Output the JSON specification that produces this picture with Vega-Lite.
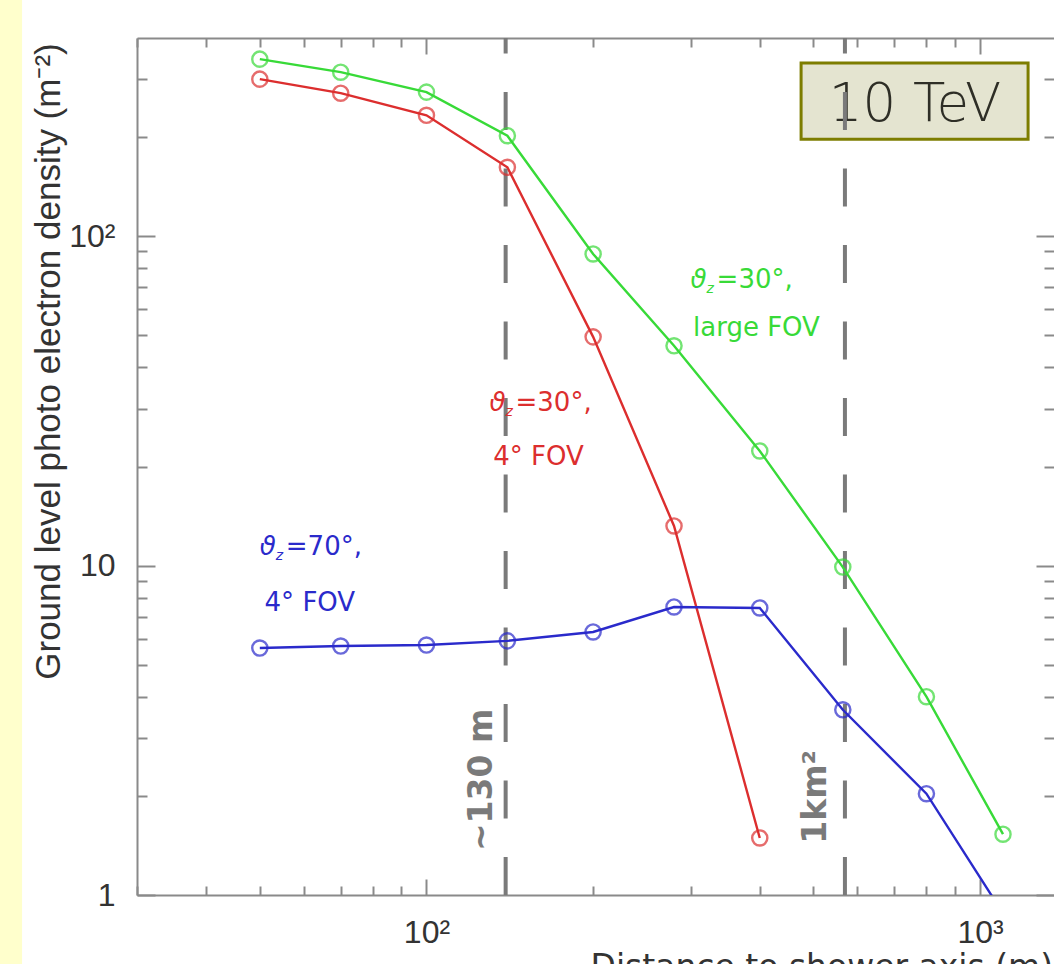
{
  "$schema": "https://vega.github.io/schema/vega-lite/v6.json",
  "usermeta": {"embedOptions": {"actions": false}},
  "width": 917,
  "height": 857,
  "autosize": {"type": "none"},
  "padding": {"left": 137, "top": 38, "right": 0, "bottom": 69},
  "background": "white",
  "config": {"view": {"stroke": null}},
  "datasets": {
    "strip": [{"x1": 16.9, "x2": 18.6, "y1": 0.6, "y2": 530}],
    "box": [{"x1": 475, "x2": 1221, "y1": 197, "y2": 336, "label": "10 TeV", "xc": 763, "yc": 250}],
    "refs": [
      {"x": 139, "label": "~130 m", "lx": 131.5, "ly": 2.236},
      {"x": 570, "label": "1km²", "lx": 526.8, "ly": 1.986}
    ],
    "pts": [
      {"s": "g", "x": 50, "y": 345}, {"s": "g", "x": 70, "y": 315}, {"s": "g", "x": 100, "y": 274},
      {"s": "g", "x": 140, "y": 202}, {"s": "g", "x": 200, "y": 88.4}, {"s": "g", "x": 280, "y": 46.5},
      {"s": "g", "x": 400, "y": 22.3}, {"s": "g", "x": 565, "y": 9.9}, {"s": "g", "x": 800, "y": 4.0},
      {"s": "g", "x": 1100, "y": 1.53},
      {"s": "r", "x": 50, "y": 300}, {"s": "r", "x": 70, "y": 272}, {"s": "r", "x": 100, "y": 233},
      {"s": "r", "x": 140, "y": 162}, {"s": "r", "x": 200, "y": 49.5}, {"s": "r", "x": 280, "y": 13.2},
      {"s": "r", "x": 400, "y": 1.49},
      {"s": "b", "x": 50, "y": 5.62}, {"s": "b", "x": 70, "y": 5.70}, {"s": "b", "x": 100, "y": 5.74},
      {"s": "b", "x": 140, "y": 5.91}, {"s": "b", "x": 200, "y": 6.29}, {"s": "b", "x": 280, "y": 7.49},
      {"s": "b", "x": 400, "y": 7.44}, {"s": "b", "x": 565, "y": 3.65}, {"s": "b", "x": 800, "y": 2.03},
      {"s": "b", "x": 1100, "y": 0.88}
    ],
    "ann": [
      {"s": "g", "x": 300, "y": 69.7, "eq": "=30°,", "l2": "large FOV", "lx2": 303, "ly2": 49.8},
      {"s": "r", "x": 130, "y": 29.5, "eq": "=30°,", "l2": "4° FOV", "lx2": 132, "ly2": 20.2},
      {"s": "b", "x": 50, "y": 10.8, "eq": "=70°,", "l2": "4° FOV", "lx2": 51, "ly2": 7.3}
    ]
  },
  "resolve": {"axis": {"x": "independent", "y": "independent"}},
  "layer": [
    {
      "data": {"name": "strip"},
      "mark": {"type": "rect", "clip": false, "color": "#ffffcc"},
      "encoding": {
        "x": {"field": "x1", "type": "quantitative", "scale": {"type": "log", "domain": [30, 1360], "nice": false}, "axis": null},
        "x2": {"field": "x2"},
        "y": {"field": "y1", "type": "quantitative", "scale": {"type": "log", "domain": [1, 400], "nice": false}, "axis": null},
        "y2": {"field": "y2"}
      }
    },
    {
      "data": {"name": "box"},
      "mark": {"type": "rect", "fill": "#e4e4d0", "stroke": "#7d7d00", "strokeWidth": 3},
      "encoding": {
        "x": {"field": "x1", "type": "quantitative", "scale": {"type": "log", "domain": [30, 1360], "nice": false},
          "axis": {"orient": "bottom", "values": [30,40,50,60,70,80,90,100,200,300,400,500,600,700,800,900,1000],
            "labels": false, "domain": false, "grid": false, "title": null, "ticks": true, "tickColor": "#8a8a8a", "tickWidth": 2,
            "tickSize": {"condition": {"test": "datum.value == 100 || datum.value == 1000", "value": -16}, "value": -9}}},
        "x2": {"field": "x2"},
        "y": {"field": "y1", "type": "quantitative", "scale": {"type": "log", "domain": [1, 400], "nice": false},
          "axis": {"orient": "right", "values": [1,2,3,4,5,6,7,8,9,10,20,30,40,50,60,70,80,90,100,200,300],
            "labels": false, "domain": false, "grid": false, "title": null, "ticks": true, "tickColor": "#8a8a8a", "tickWidth": 2,
            "tickSize": {"condition": {"test": "datum.value == 1 || datum.value == 10 || datum.value == 100", "value": -18}, "value": -10}}},
        "y2": {"field": "y2"}
      }
    },
    {
      "data": {"name": "box"},
      "mark": {"type": "text", "font": "DejaVu Sans", "fontWeight": 200, "fontSize": 53, "color": "#2e2e26", "align": "center", "baseline": "middle"},
      "encoding": {
        "x": {"field": "xc", "type": "quantitative", "axis": null},
        "y": {"field": "yc", "type": "quantitative", "axis": null},
        "text": {"field": "label"}
      }
    },
    {
      "data": {"name": "refs"},
      "mark": {"type": "rule", "color": "#7a7a7a", "strokeWidth": 4, "strokeDash": [38, 38.5]},
      "encoding": {
        "x": {"field": "x", "type": "quantitative", "axis": null},
        "y": {"datum": 1, "type": "quantitative", "axis": null},
        "y2": {"datum": 400}
      }
    },
    {
      "data": {"name": "refs"},
      "mark": {"type": "text", "font": "DejaVu Sans", "fontWeight": "bold", "fontSize": 33, "color": "#7a7a7a", "angle": 270, "align": "center", "baseline": "alphabetic"},
      "encoding": {
        "x": {"field": "lx", "type": "quantitative", "axis": null},
        "y": {"field": "ly", "type": "quantitative", "axis": null},
        "text": {"field": "label"}
      }
    },
    {
      "data": {"name": "pts"},
      "mark": {"type": "line", "strokeWidth": 2.4, "clip": true},
      "encoding": {
        "x": {"field": "x", "type": "quantitative",
          "axis": {"orient": "bottom", "values": [100, 1000], "labelExpr": "datum.value == 100 ? '10²' : '10³'",
            "ticks": false, "tickSize": 0, "domain": true, "domainColor": "#8a8a8a", "domainWidth": 2, "grid": false,
            "labelFont": "Liberation Sans", "labelFontSize": 32, "labelColor": "#333333", "labelPadding": 22,
            "labelFlush": false, "labelOverlap": false, "labelBaseline": "top",
            "title": "Distance to shower axis (m)", "titleFont": "DejaVu Sans", "titleFontSize": 33, "titleFontWeight": "normal",
            "titleColor": "#333333", "titleX": 453, "titleY": 82, "titleAlign": "left", "titleBaseline": "alphabetic", "titleAnchor": "start"}},
        "y": {"field": "y", "type": "quantitative",
          "axis": {"orient": "left", "values": [1, 10, 100], "labelExpr": "datum.value == 100 ? '10²' : (datum.value == 10 ? '10' : '1')",
            "ticks": false, "tickSize": 0, "domain": true, "domainColor": "#8a8a8a", "domainWidth": 2, "grid": false,
            "labelFont": "Liberation Sans", "labelFontSize": 32, "labelColor": "#333333", "labelPadding": 22,
            "labelFlush": false, "labelOverlap": false, "labelBaseline": "middle",
            "title": "Ground level photo electron density (m⁻²)", "titleFont": "Liberation Sans", "titleFontSize": 35, "titleFontWeight": "normal",
            "titleColor": "#333333", "titleAngle": 270, "titleX": -78, "titleY": 323, "titleAlign": "center", "titleBaseline": "alphabetic"}},
        "color": {"field": "s", "type": "nominal", "scale": {"domain": ["g", "r", "b"], "range": ["#38da38", "#dc2e2e", "#2a2acb"]}, "legend": null}
      }
    },
    {
      "data": {"name": "pts"},
      "mark": {"type": "point", "shape": "circle", "filled": false, "size": 230, "strokeWidth": 2.4, "clip": true},
      "encoding": {
        "x": {"field": "x", "type": "quantitative",
          "axis": {"orient": "top", "values": [30,40,50,60,70,80,90,100,200,300,400,500,600,700,800,900,1000],
            "labels": false, "domain": true, "domainColor": "#8a8a8a", "domainWidth": 2, "grid": false, "title": null,
            "ticks": true, "tickColor": "#8a8a8a", "tickWidth": 2,
            "tickSize": {"condition": {"test": "datum.value == 100 || datum.value == 1000", "value": -16}, "value": -9}}},
        "y": {"field": "y", "type": "quantitative",
          "axis": {"orient": "left", "values": [1,2,3,4,5,6,7,8,9,10,20,30,40,50,60,70,80,90,100,200,300],
            "labels": false, "domain": false, "grid": false, "title": null,
            "ticks": true, "tickColor": "#8a8a8a", "tickWidth": 2,
            "tickSize": {"condition": {"test": "datum.value == 1 || datum.value == 10 || datum.value == 100", "value": -18}, "value": -10}}},
        "color": {"field": "s", "type": "nominal", "legend": null}
      }
    },
    {
      "data": {"name": "ann"},
      "mark": {"type": "text", "font": "DejaVu Sans", "fontStyle": "italic", "fontSize": 26, "align": "left", "baseline": "alphabetic"},
      "encoding": {
        "x": {"field": "x", "type": "quantitative", "axis": null},
        "y": {"field": "y", "type": "quantitative", "axis": null},
        "text": {"value": "ϑ"},
        "color": {"field": "s", "type": "nominal", "legend": null}
      }
    },
    {
      "data": {"name": "ann"},
      "mark": {"type": "text", "font": "DejaVu Sans", "fontStyle": "italic", "fontSize": 14, "align": "left", "baseline": "alphabetic", "dx": 16, "dy": 5},
      "encoding": {
        "x": {"field": "x", "type": "quantitative", "axis": null},
        "y": {"field": "y", "type": "quantitative", "axis": null},
        "text": {"value": "z"},
        "color": {"field": "s", "type": "nominal", "legend": null}
      }
    },
    {
      "data": {"name": "ann"},
      "mark": {"type": "text", "font": "DejaVu Sans", "fontSize": 26, "align": "left", "baseline": "alphabetic", "dx": 26},
      "encoding": {
        "x": {"field": "x", "type": "quantitative", "axis": null},
        "y": {"field": "y", "type": "quantitative", "axis": null},
        "text": {"field": "eq"},
        "color": {"field": "s", "type": "nominal", "legend": null}
      }
    },
    {
      "data": {"name": "ann"},
      "mark": {"type": "text", "font": "DejaVu Sans", "fontSize": 26, "align": "left", "baseline": "alphabetic"},
      "encoding": {
        "x": {"field": "lx2", "type": "quantitative", "axis": null},
        "y": {"field": "ly2", "type": "quantitative", "axis": null},
        "text": {"field": "l2"},
        "color": {"field": "s", "type": "nominal", "legend": null}
      }
    }
  ]
}
